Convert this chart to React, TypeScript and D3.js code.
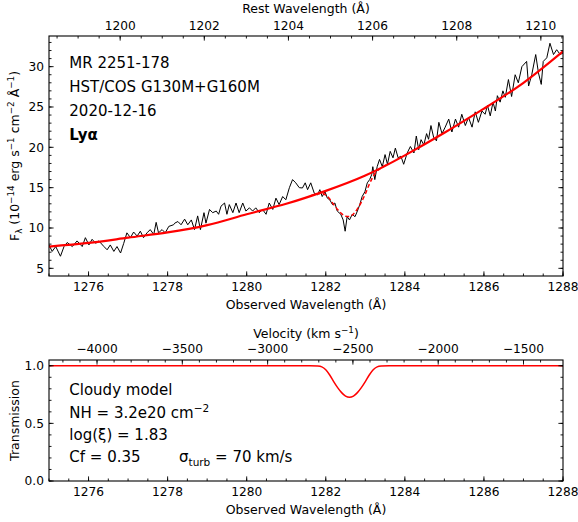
import React from "react";
import * as d3 from "d3";

// observed spectrum
const specWave = [
  1275.0, 1275.08, 1275.17, 1275.29, 1275.38, 1275.46, 1275.59, 1275.71, 1275.84, 1275.92,
  1276.01, 1276.09, 1276.18, 1276.26, 1276.39, 1276.47, 1276.55, 1276.64, 1276.72, 1276.81,
  1276.89, 1276.97, 1277.06, 1277.14, 1277.23, 1277.31, 1277.39, 1277.48, 1277.56, 1277.65,
  1277.71, 1277.77, 1277.86, 1277.94, 1278.03, 1278.15, 1278.18, 1278.26, 1278.34, 1278.43,
  1278.51, 1278.6, 1278.68, 1278.76, 1278.83, 1278.92, 1278.97, 1279.06, 1279.14, 1279.23,
  1279.29, 1279.35, 1279.44, 1279.5, 1279.56, 1279.65, 1279.73, 1279.81, 1279.9, 1279.98,
  1280.07, 1280.15, 1280.23, 1280.32, 1280.4, 1280.49, 1280.57, 1280.66, 1280.74, 1280.82,
  1280.91, 1280.99, 1281.08, 1281.16, 1281.24, 1281.33, 1281.41, 1281.48, 1281.54, 1281.62,
  1281.71, 1281.79, 1281.85, 1281.91, 1281.98, 1282.04, 1282.1, 1282.17, 1282.23, 1282.29,
  1282.38, 1282.44, 1282.49, 1282.54, 1282.6, 1282.67, 1282.74, 1282.8, 1282.86, 1282.92,
  1282.99, 1283.05, 1283.11, 1283.16, 1283.19, 1283.24, 1283.3, 1283.36, 1283.43, 1283.5,
  1283.56, 1283.63, 1283.7, 1283.76, 1283.83, 1283.9, 1283.97, 1284.06, 1284.14, 1284.23,
  1284.29, 1284.35, 1284.41, 1284.48, 1284.55, 1284.6, 1284.66, 1284.73, 1284.8, 1284.86,
  1284.94, 1285.02, 1285.11, 1285.19, 1285.28, 1285.36, 1285.44, 1285.53, 1285.61, 1285.7,
  1285.78, 1285.86, 1285.95, 1286.03, 1286.09, 1286.16, 1286.23, 1286.29, 1286.34, 1286.41,
  1286.48, 1286.54, 1286.62, 1286.7, 1286.79, 1286.87, 1286.96, 1287.08, 1287.13, 1287.21,
  1287.31, 1287.38, 1287.45, 1287.5, 1287.59, 1287.67, 1287.76, 1287.84, 1287.93, 1288.0,
];
const specFlux = [
  7.9, 7.1, 7.7, 6.5, 7.7, 8.2, 7.7, 8.4, 7.7, 8.8,
  7.9, 8.6, 8.1, 8.4, 7.7, 7.3, 7.9, 7.1, 7.7, 6.9,
  8.1, 9.4, 8.8, 9.5, 9.0, 9.6, 8.8, 9.4, 9.8, 9.2,
  10.7, 9.4, 9.8, 9.4, 10.2, 10.4, 10.6, 10.8, 10.4, 11.1,
  10.4, 11.0, 9.8, 11.5, 9.8, 11.9, 10.6, 12.3, 11.9, 12.1,
  11.7, 12.7, 13.1, 11.7, 12.9, 11.9, 13.1, 11.9, 13.1, 12.1,
  12.5, 12.1, 12.5, 11.9, 12.3, 11.7, 13.1, 12.3, 13.7, 12.9,
  13.9, 13.5, 15.0, 16.0, 15.6, 15.0, 14.96, 15.6, 14.75, 15.6,
  14.3, 14.1, 14.75, 13.9, 14.5, 13.7, 13.5, 12.9, 13.1, 12.1,
  11.7, 11.0, 9.6, 11.4, 11.0, 11.7, 11.4, 12.1, 12.9, 13.9,
  14.5, 15.6, 16.0, 16.6, 17.6, 16.0, 17.6, 18.5, 17.6, 19.1,
  17.9, 19.5, 18.7, 19.9, 18.7, 18.9, 17.9, 19.3, 20.1, 19.3,
  21.4, 19.7, 20.95, 20.3, 21.7, 21.0, 22.7, 21.2, 20.8, 23.1,
  21.7, 22.5, 23.5, 21.9, 23.5, 22.5, 24.1, 22.7, 23.7, 22.5,
  24.4, 23.1, 24.5, 24.1, 25.2, 23.9, 25.6, 24.5, 26.4, 25.6,
  27.0, 26.2, 28.4, 26.3, 29.0, 28.0, 30.0, 30.65, 27.6, 29.0,
  31.5, 29.2, 27.8, 30.65, 31.1, 32.9, 31.5, 32.1, 31.5, 31.7,
];

// fitted continuum
const contWave = [1275, 1276, 1277, 1278, 1279, 1280, 1281, 1282, 1283, 1284, 1285, 1286, 1287, 1288];
const contFlux = [7.7, 8.15, 8.8, 9.45, 10.35, 11.7, 13.0, 14.6, 16.5, 19.0, 21.8, 24.8, 28.0, 31.9];

// cloudy model transmission
const transWave = [
  1275, 1281.6, 1281.8, 1281.9, 1282.0, 1282.1, 1282.2, 1282.3, 1282.4, 1282.5, 1282.6,
  1282.7, 1282.8, 1282.9, 1283.0, 1283.1, 1283.2, 1283.3, 1283.4, 1283.6, 1288,
];
const transVal = [
  1.0, 1.0, 0.997, 0.99, 0.965, 0.92, 0.862, 0.81, 0.767, 0.737, 0.726,
  0.737, 0.767, 0.81, 0.862, 0.92, 0.965, 0.99, 0.997, 1.0, 1.0,
];

const obsTicks = [1276, 1278, 1280, 1282, 1284, 1286, 1288];
const restTicks = [1200, 1202, 1204, 1206, 1208, 1210];
const velTicks = [-4000, -3500, -3000, -2500, -2000, -1500];
const fluxTicks = [5, 10, 15, 20, 25, 30];
const transTicks = [0, 0.5, 1.0];

const topLines = ["MR 2251-178", "HST/COS G130M+G160M", "2020-12-16"];

const onePlusZ = 1.064;
const lyaRest = 1215.67;
const cLight = 299792.458;

const W = 578;
const H = 522;
const left = 49;
const right = 563;
const top1 = 36;
const bot1 = 276;
const top2 = 360;
const bot2 = 481;
const font = "DejaVu Sans";
const tickFs = 12.2;
const labFs = 12.5;
const supFs = 8.8;
const annFs = 15;

const x = d3.scaleLinear().domain([1275, 1288]).range([left, right]);
const yFlux = d3.scaleLinear().domain([4.05, 33.8]).range([bot1, top1]);
const yTrans = d3.scaleLinear().domain([0, 1.05]).range([bot2, top2]);
const restX = (r: number) => x(r * onePlusZ);
const velX = (v: number) => x(lyaRest * onePlusZ * (1 + v / cLight));

const contInterp = d3.scaleLinear().domain(contWave).range(contFlux);

const fmt1 = (v: number) => v.toFixed(1);
const minus = (v: number) => String(v).replace("-", "\u2212");

const vTick = (xx: number, y: number, len: number, key: string) => (
  <line key={key} x1={xx} x2={xx} y1={y} y2={y + len} stroke="#000" strokeWidth={0.9} />
);
const hTick = (xx: number, y: number, len: number, key: string) => (
  <line key={key} x1={xx} x2={xx + len} y1={y} y2={y} stroke="#000" strokeWidth={0.9} />
);

export default function App() {
  const specLine = d3
    .line<number>()
    .x((_, i) => x(specWave[i]))
    .y((d) => yFlux(d));
  const contLine = d3
    .line<number>()
    .x((_, i) => x(contWave[i]))
    .y((d) => yFlux(d))
    .curve(d3.curveNatural);
  const transLine = d3
    .line<number>()
    .x((_, i) => x(transWave[i]))
    .y((d) => yTrans(d))
    .curve(d3.curveMonotoneX);

  // model = continuum x transmission, only inside the trough
  const troughIdx = transWave.map((w, i) => i).filter((i) => transWave[i] >= 1281.6 && transWave[i] <= 1283.6);
  const modelLine = d3
    .line<number>()
    .x((i) => x(transWave[i]))
    .y((i) => yFlux(contInterp(transWave[i]) * transVal[i]))
    .curve(d3.curveMonotoneX);

  const obsMinor = d3.range(1275, 1288.01, 0.5);
  const restMinor = d3.range(1198.5, 1211, 0.5).filter((r) => r * onePlusZ >= 1275 && r * onePlusZ <= 1288);
  const velMinor = d3.range(-4600, -1300, 100).filter((v) => velX(v) >= left && velX(v) <= right);
  const fluxMinor = d3.range(5, 34, 1);
  const transMinor = d3.range(0, 1.06, 0.1);

  const maj = 4.6;
  const mnr = 2.5;

  const ticks: React.ReactNode[] = [];
  // top panel
  obsMinor.forEach((w, i) => ticks.push(vTick(x(w), bot1, -mnr, `om1-${i}`)));
  obsTicks.forEach((w, i) => ticks.push(vTick(x(w), bot1, -maj, `oM1-${i}`)));
  restMinor.forEach((r, i) => ticks.push(vTick(restX(r), top1, mnr, `rm-${i}`)));
  restTicks.forEach((r, i) => ticks.push(vTick(restX(r), top1, maj, `rM-${i}`)));
  fluxMinor.forEach((f, i) => {
    ticks.push(hTick(left, yFlux(f), mnr, `flm-${i}`));
    ticks.push(hTick(right, yFlux(f), -mnr, `frm-${i}`));
  });
  fluxTicks.forEach((f, i) => {
    ticks.push(hTick(left, yFlux(f), maj, `flM-${i}`));
    ticks.push(hTick(right, yFlux(f), -maj, `frM-${i}`));
  });
  // bottom panel
  obsMinor.forEach((w, i) => ticks.push(vTick(x(w), bot2, -mnr, `om2-${i}`)));
  obsTicks.forEach((w, i) => ticks.push(vTick(x(w), bot2, -maj, `oM2-${i}`)));
  velMinor.forEach((v, i) => ticks.push(vTick(velX(v), top2, mnr, `vm-${i}`)));
  velTicks.forEach((v, i) => ticks.push(vTick(velX(v), top2, maj, `vM-${i}`)));
  transMinor.forEach((t, i) => {
    ticks.push(hTick(left, yTrans(t), mnr, `tlm-${i}`));
    ticks.push(hTick(right, yTrans(t), -mnr, `trm-${i}`));
  });
  transTicks.forEach((t, i) => {
    ticks.push(hTick(left, yTrans(t), maj, `tlM-${i}`));
    ticks.push(hTick(right, yTrans(t), -maj, `trM-${i}`));
  });

  return (
    <svg
      width={W}
      height={H}
      style={{ position: "absolute", left: 0, top: 0, background: "#fff" }}
      fontFamily={font}
    >
      <rect x={0} y={0} width={W} height={H} fill="#fff" />
      <defs>
        <clipPath id="clip1">
          <rect x={left} y={top1} width={right - left} height={bot1 - top1} />
        </clipPath>
        <clipPath id="clip2">
          <rect x={left} y={top2} width={right - left} height={bot2 - top2} />
        </clipPath>
      </defs>

      <g clipPath="url(#clip1)">
        <path d={specLine(specFlux) ?? ""} fill="none" stroke="#000" strokeWidth={1} strokeLinejoin="round" />
        <path d={contLine(contFlux) ?? ""} fill="none" stroke="#f00" strokeWidth={2.2} />
        <path d={modelLine(troughIdx) ?? ""} fill="none" stroke="#f00" strokeWidth={1.5} strokeDasharray="4,2.5" />
      </g>
      <g clipPath="url(#clip2)">
        <path d={transLine(transVal) ?? ""} fill="none" stroke="#f00" strokeWidth={1.5} />
      </g>

      {ticks}
      <rect x={left} y={top1} width={right - left} height={bot1 - top1} fill="none" stroke="#000" strokeWidth={1.1} />
      <rect x={left} y={top2} width={right - left} height={bot2 - top2} fill="none" stroke="#000" strokeWidth={1.1} />

      {/* tick labels */}
      <g fontSize={tickFs} fill="#000" textAnchor="middle">
        {obsTicks.map((w) => (
          <text key={"ol1" + w} x={x(w)} y={bot1 + 15}>{w}</text>
        ))}
        {restTicks.map((r) => (
          <text key={"rl" + r} x={restX(r)} y={top1 - 6.5}>{r}</text>
        ))}
        {obsTicks.map((w) => (
          <text key={"ol2" + w} x={x(w)} y={bot2 + 14.5}>{w}</text>
        ))}
        {velTicks.map((v) => (
          <text key={"vl" + v} x={velX(v)} y={top2 - 7}>{minus(v)}</text>
        ))}
      </g>
      <g fontSize={tickFs} fill="#000" textAnchor="end">
        {fluxTicks.map((f) => (
          <text key={"fl" + f} x={left - 5} y={yFlux(f) + 4.4}>{f}</text>
        ))}
        {transTicks.map((t) => (
          <text key={"tl" + t} x={left - 5} y={yTrans(t) + 4.4}>{fmt1(t)}</text>
        ))}
      </g>

      {/* axis labels */}
      <g fontSize={labFs} fill="#000" textAnchor="middle">
        <text x={(left + right) / 2} y={309.3}>Observed Wavelength (Å)</text>
        <text x={(left + right) / 2} y={13}>Rest Wavelength (Å)</text>
        <text x={(left + right) / 2} y={513.5}>Observed Wavelength (Å)</text>
        <text x={(left + right) / 2} y={338}>
          Velocity (km s<tspan dy={-5} fontSize={supFs}>{"\u22121"}</tspan>
          <tspan dy={5}>)</tspan>
        </text>
        <text transform={`translate(18.5,${(top1 + bot1) / 2}) rotate(-90)`}>
          F<tspan dy={3} fontSize={supFs}>λ</tspan>
          <tspan dy={-3}> (10</tspan>
          <tspan dy={-5} fontSize={supFs}>{"\u221214"}</tspan>
          <tspan dy={5}> erg s</tspan>
          <tspan dy={-5} fontSize={supFs}>{"\u22121"}</tspan>
          <tspan dy={5}> cm</tspan>
          <tspan dy={-5} fontSize={supFs}>{"\u22122"}</tspan>
          <tspan dy={5}> Å</tspan>
          <tspan dy={-5} fontSize={supFs}>{"\u22121"}</tspan>
          <tspan dy={5}>)</tspan>
        </text>
        <text transform={`translate(18.5,${(top2 + bot2) / 2}) rotate(-90)`}>Transmission</text>
      </g>

      {/* annotations */}
      <g fontSize={annFs} fill="#000">
        {topLines.map((s, i) => (
          <text key={s} x={69.3} y={68.3 + i * 23.9}>{s}</text>
        ))}
        <text x={69.3} y={140} fontWeight="bold">Lyα</text>
        <text x={69.3} y={395}>Cloudy model</text>
        <text x={69.3} y={417.5}>
          NH = 3.2e20 cm<tspan dy={-6} fontSize={10.5}>{"\u22122"}</tspan>
        </text>
        <text x={69.3} y={440}>log(ξ) = 1.83</text>
        <text x={69.3} y={462.3}>Cf = 0.35</text>
        <text x={179} y={462.3}>
          σ<tspan dy={3.5} fontSize={10.5}>turb</tspan>
          <tspan dy={-3.5}> = 70 km/s</tspan>
        </text>
      </g>
    </svg>
  );
}
